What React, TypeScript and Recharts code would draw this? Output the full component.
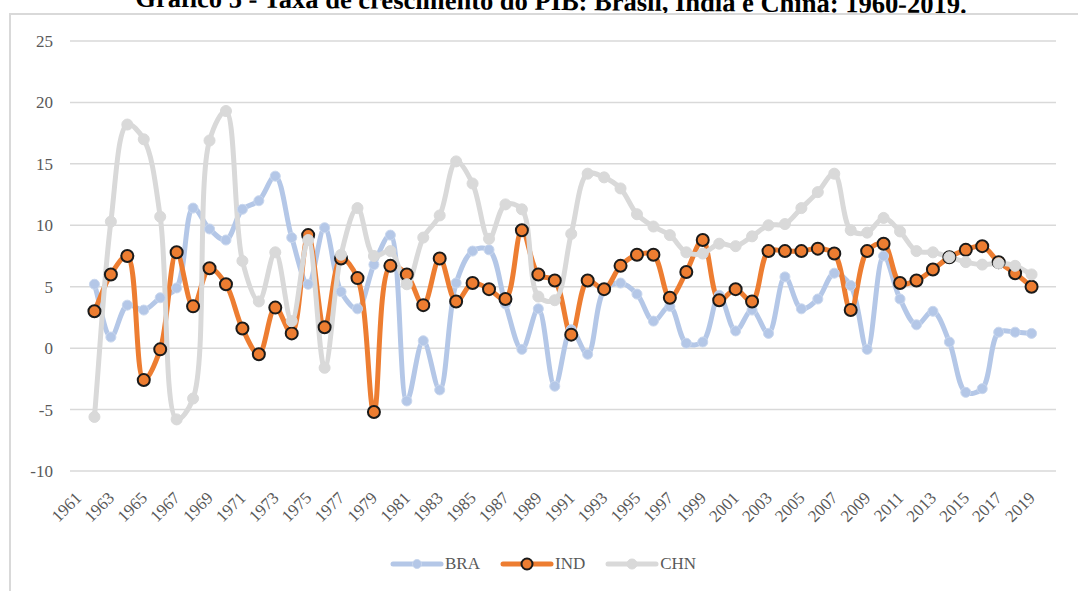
import React from 'react';
import { LineChart, Line, XAxis, YAxis, CartesianGrid, Legend } from 'recharts';

// categories: 1960 and 2019 slots are empty in the original sheet
const years = [
  '1960', '1961', '1962', '1963', '1964', '1965', '1966', '1967', '1968', '1969',
  '1970', '1971', '1972', '1973', '1974', '1975', '1976', '1977', '1978', '1979',
  '1980', '1981', '1982', '1983', '1984', '1985', '1986', '1987', '1988', '1989',
  '1990', '1991', '1992', '1993', '1994', '1995', '1996', '1997', '1998', '1999',
  '2000', '2001', '2002', '2003', '2004', '2005', '2006', '2007', '2008', '2009',
  '2010', '2011', '2012', '2013', '2014', '2015', '2016', '2017', '2018', '2019',
];

// values start at the 1961 slot
const bra = [
  5.2, 0.9, 3.5, 3.1, 4.1, 4.9, 11.4, 9.7, 8.8, 11.3,
  12.0, 14.0, 9.0, 5.2, 9.8, 4.6, 3.2, 6.8, 9.2, -4.3,
  0.6, -3.4, 5.3, 7.9, 8.0, 3.6, -0.1, 3.2, -3.1, 1.5,
  -0.5, 4.7, 5.3, 4.4, 2.2, 3.4, 0.4, 0.5, 4.3, 1.4,
  3.1, 1.2, 5.8, 3.2, 4.0, 6.1, 5.1, -0.1, 7.5, 4.0,
  1.9, 3.0, 0.5, -3.6, -3.3, 1.3, 1.3, 1.2,
];
const ind = [
  3.0, 6.0, 7.5, -2.6, -0.1, 7.8, 3.4, 6.5, 5.2, 1.6,
  -0.5, 3.3, 1.2, 9.2, 1.7, 7.3, 5.7, -5.2, 6.7, 6.0,
  3.5, 7.3, 3.8, 5.3, 4.8, 4.0, 9.6, 6.0, 5.5, 1.1,
  5.5, 4.8, 6.7, 7.6, 7.6, 4.1, 6.2, 8.8, 3.9, 4.8,
  3.8, 7.9, 7.9, 7.9, 8.1, 7.7, 3.1, 7.9, 8.5, 5.3,
  5.5, 6.4, 7.4, 8.0, 8.3, 7.0, 6.1, 5.0,
];
const chn = [
  -5.6, 10.3, 18.2, 17.0, 10.7, -5.8, -4.1, 16.9, 19.3, 7.1,
  3.8, 7.8, 2.2, 8.8, -1.6, 7.6, 11.4, 7.5, 7.9, 5.2,
  9.0, 10.8, 15.2, 13.4, 8.9, 11.7, 11.3, 4.2, 3.9, 9.3,
  14.2, 13.9, 13.0, 10.9, 9.9, 9.2, 7.8, 7.7, 8.5, 8.3,
  9.1, 10.0, 10.1, 11.4, 12.7, 14.2, 9.6, 9.4, 10.6, 9.5,
  7.9, 7.8, 7.4, 7.0, 6.8, 6.9, 6.7, 6.0,
];

const yTicks = [-10, -5, 0, 5, 10, 15, 20, 25];

const data = years.map((year, i) => ({
  year,
  BRA: bra[i - 1] ?? null,
  IND: ind[i - 1] ?? null,
  CHN: chn[i - 1] ?? null,
}));

const series = [
  { key: 'BRA', color: '#b4c7e7', r: 5, dotStroke: '#c9d7ee', dotStrokeWidth: 1 },
  { key: 'IND', color: '#ed7d31', r: 6, dotStroke: '#1a1a1a', dotStrokeWidth: 2 },
  { key: 'CHN', color: '#d9d9d9', r: 5.5, dotStroke: '#d9d9d9', dotStrokeWidth: 1 },
];

const FONT = "'Liberation Serif', 'Times New Roman', serif";
const TEXT = '#595959';

// smoothed line like excel's "smoothed line" (centripetal catmull-rom)
const excelSmooth = (context: any) => {
  let xs: number[] = [];
  let ys: number[] = [];
  return {
    areaStart() {},
    areaEnd() {},
    lineStart() {
      xs = [];
      ys = [];
    },
    point(x: number, y: number) {
      xs.push(+x);
      ys.push(+y);
    },
    lineEnd() {
      const n = xs.length;
      if (!n) return;
      context.moveTo(xs[0], ys[0]);
      if (n === 1) {
        context.lineTo(xs[0], ys[0]);
        return;
      }
      const dist = (a: number, b: number) => Math.hypot(xs[b] - xs[a], ys[b] - ys[a]);
      for (let i = 0; i < n - 1; i++) {
        const p0 = Math.max(i - 1, 0);
        const p1 = i;
        const p2 = i + 1;
        const p3 = Math.min(i + 2, n - 1);
        const d01 = dist(p0, p1);
        const d12 = dist(p1, p2);
        const d23 = dist(p2, p3);
        const l01 = Math.sqrt(d01);
        const l12 = Math.sqrt(d12);
        const l23 = Math.sqrt(d23);
        let c1x, c1y, c2x, c2y;
        if (l01 > 1e-6) {
          const a = 2 * d01 + 3 * l01 * l12 + d12;
          const m = 3 * l01 * (l01 + l12);
          c1x = (xs[p1] * a - xs[p0] * d12 + xs[p2] * d01) / m;
          c1y = (ys[p1] * a - ys[p0] * d12 + ys[p2] * d01) / m;
        } else {
          c1x = xs[p1] + (xs[p2] - xs[p1]) / 3;
          c1y = ys[p1] + (ys[p2] - ys[p1]) / 3;
        }
        if (l23 > 1e-6) {
          const b = 2 * d23 + 3 * l23 * l12 + d12;
          const m = 3 * l23 * (l23 + l12);
          c2x = (xs[p2] * b + xs[p1] * d23 - xs[p3] * d12) / m;
          c2y = (ys[p2] * b + ys[p1] * d23 - ys[p3] * d12) / m;
        } else {
          c2x = xs[p2] - (xs[p2] - xs[p1]) / 3;
          c2y = ys[p2] - (ys[p2] - ys[p1]) / 3;
        }
        context.bezierCurveTo(c1x, c1y, c2x, c2y, xs[p2], ys[p2]);
      }
    },
  };
};

function YearTick({ x, y, payload }: any) {
  if (Number(payload.value) % 2 === 0) return <g />;
  const ax = x - 12;
  const ay = y + 28;
  return (
    <text
      x={ax}
      y={ay}
      transform={`rotate(-45, ${ax}, ${ay})`}
      textAnchor="end"
      fontFamily={FONT}
      style={{ fontSize: 17, fontFamily: FONT, fill: TEXT }}
    >
      {payload.value}
    </text>
  );
}

function ValueTick({ x, y, payload }: any) {
  return (
    <text
      x={x}
      y={y}
      dy="0.35em"
      textAnchor="end"
      fontFamily={FONT}
      style={{ fontSize: 17, fontFamily: FONT, fill: TEXT }}
    >
      {payload.value}
    </text>
  );
}

function LegendRow() {
  return (
    <div
      style={{
        display: 'flex',
        alignItems: 'center',
        height: 24,
        paddingLeft: 390,
        fontFamily: FONT,
        fontSize: 17,
        color: TEXT,
      }}
    >
      {series.map((s) => (
        <div key={s.key} style={{ display: 'flex', alignItems: 'center', marginRight: 20 }}>
          <svg width={54} height={16}>
            <line x1={3} x2={51} y1={8} y2={8} stroke={s.color} strokeWidth={5} strokeLinecap="round" />
            <circle cx={27} cy={8} r={s.r - 0.5} fill={s.color} stroke={s.dotStroke} strokeWidth={s.dotStrokeWidth} />
          </svg>
          <span style={{ marginLeft: 1 }}>{s.key}</span>
        </div>
      ))}
    </div>
  );
}

export default function App() {
  return (
    <div
      style={{
        position: 'absolute',
        left: 0,
        top: 0,
        width: 1078,
        height: 591,
        overflow: 'hidden',
        background: '#fff',
      }}
    >
      {/* Title, cut off at the top like in the source */}
      <div
        style={{
          position: 'absolute',
          left: 12,
          top: -12,
          width: 1078,
          textAlign: 'center',
          fontFamily: FONT,
          fontWeight: 'bold',
          fontSize: 26.5,
          lineHeight: '27px',
          color: '#000',
          whiteSpace: 'nowrap',
          transform: 'rotate(0.45deg)',
        }}
      >
        Gráfico 5 - Taxa de crescimento do PIB: Brasil, Índia e China: 1960-2019.
      </div>

      {/* Chart frame */}
      <div
        style={{
          position: 'absolute',
          left: 9,
          top: 13,
          width: 1200,
          height: 700,
          border: '2px solid #d9d9d9',
        }}
      />

      <div style={{ position: 'absolute', left: 0, top: 0 }}>
        <LineChart width={1078} height={591} data={data} margin={{ top: 41, right: 22, bottom: 15, left: 0 }}>
          <CartesianGrid vertical={false} stroke="#d9d9d9" strokeWidth={1.5} />
          <XAxis
            dataKey="year"
            interval={0}
            tick={<YearTick />}
            tickLine={false}
            axisLine={false}
            tickSize={0}
            tickMargin={0}
            height={81}
            padding={{ left: 8, right: 8 }}
          />
          <YAxis
            domain={[-10, 25]}
            ticks={yTicks}
            interval={0}
            width={70}
            tickLine={false}
            axisLine={false}
            tickSize={0}
            tickMargin={17}
            tick={<ValueTick />}
          />
          <Legend verticalAlign="bottom" content={<LegendRow />} wrapperStyle={{ left: 0, width: 1078 }} />
          {series.map((s) => (
            <Line
              key={s.key}
              dataKey={s.key}
              type={excelSmooth as any}
              stroke={s.color}
              strokeWidth={5}
              dot={{ r: s.r, fill: s.color, stroke: s.dotStroke, strokeWidth: s.dotStrokeWidth }}
              activeDot={false}
              isAnimationActive={false}
            />
          ))}
        </LineChart>
      </div>
    </div>
  );
}
